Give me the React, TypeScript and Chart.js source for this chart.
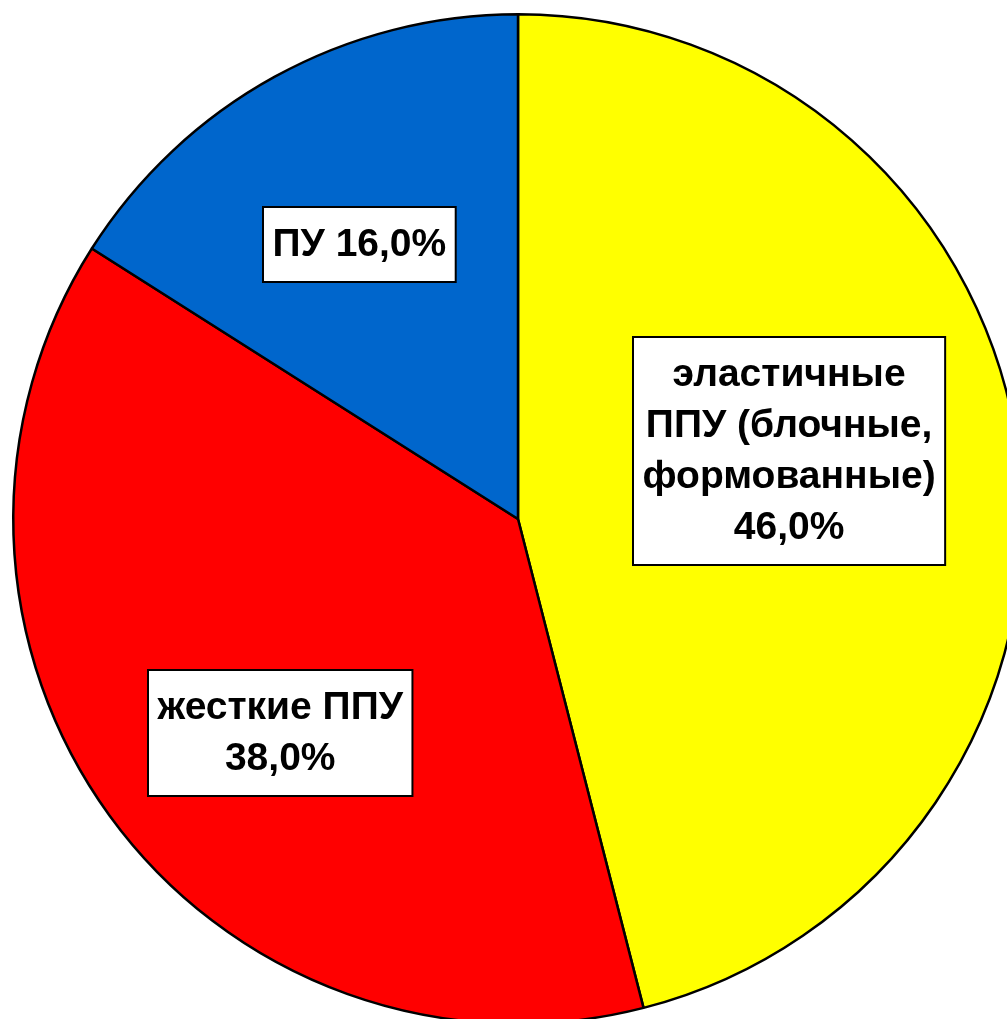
import React, { useEffect, useRef } from "react";
import { Chart, registerables } from "chart.js";

Chart.register(...registerables);

const categories = ["эластичные ППУ (блочные, формованные)", "жесткие ППУ", "ПУ"];
const values = [46.0, 38.0, 16.0];
const colors = ["#FFFF00", "#FF0000", "#0066CC"];
const labelLines = [
  ["эластичные", "ППУ (блочные,", "формованные)", "46,0%"],
  ["жесткие ППУ", "38,0%"],
  ["ПУ 16,0%"],
];
// label placement: angle (deg clockwise from top) and fraction of radius
const labelAngles = [76, 228, 330];
const labelRadius = [0.553, 0.635, 0.627];

const labelPlugin = {
  id: "boxLabels",
  afterDraw(chart: any) {
    const ctx = chart.ctx as CanvasRenderingContext2D;
    const meta = chart.getDatasetMeta(0);
    const arc = meta.data[0] as any;
    const cx = arc.x;
    const cy = arc.y;
    const r = arc.outerRadius;
    const fontSize = 39;
    const lineH = 51;
    ctx.save();
    ctx.font = `bold ${fontSize}px "Liberation Sans", Arial, sans-serif`;
    ctx.textAlign = "center";
    ctx.textBaseline = "middle";
    labelLines.forEach((lines, i) => {
      const a = (labelAngles[i] * Math.PI) / 180;
      const lx = cx + Math.sin(a) * r * labelRadius[i];
      const ly = cy - Math.cos(a) * r * labelRadius[i];
      let w = 0;
      lines.forEach((l) => (w = Math.max(w, ctx.measureText(l).width)));
      const bw = w + 19;
      const bh = lines.length * lineH + 24;
      const bx = Math.round(lx - bw / 2);
      const by = Math.round(ly - bh / 2);
      ctx.fillStyle = "#FFFFFF";
      ctx.fillRect(bx, by, bw, bh);
      ctx.strokeStyle = "#000000";
      ctx.lineWidth = 2;
      ctx.strokeRect(bx, by, bw, bh);
      ctx.fillStyle = "#000000";
      lines.forEach((l, j) => {
        ctx.fillText(l, bx + bw / 2, by + 12 + lineH * j + lineH / 2 + 1);
      });
    });
    ctx.restore();
  },
};

export default function App() {
  const ref = useRef<HTMLCanvasElement>(null);
  useEffect(() => {
    if (!ref.current) return;
    const chart = new Chart(ref.current, {
      type: "pie",
      data: {
        labels: categories,
        datasets: [
          {
            data: values,
            backgroundColor: colors,
            borderColor: "#000000",
            borderWidth: 2.5,
          },
        ],
      },
      options: {
        responsive: false,
        animation: false,
        rotation: 0,
        layout: { padding: 12 },
        plugins: {
          legend: { display: false },
          tooltip: { enabled: false },
        },
      },
      plugins: [labelPlugin],
    });
    return () => chart.destroy();
  }, []);
  return (
    <div style={{ position: "fixed", left: 0, top: 0, width: 1036, height: 1038, background: "#fff" }}>
      <canvas ref={ref} width={1036} height={1038} />
    </div>
  );
}
